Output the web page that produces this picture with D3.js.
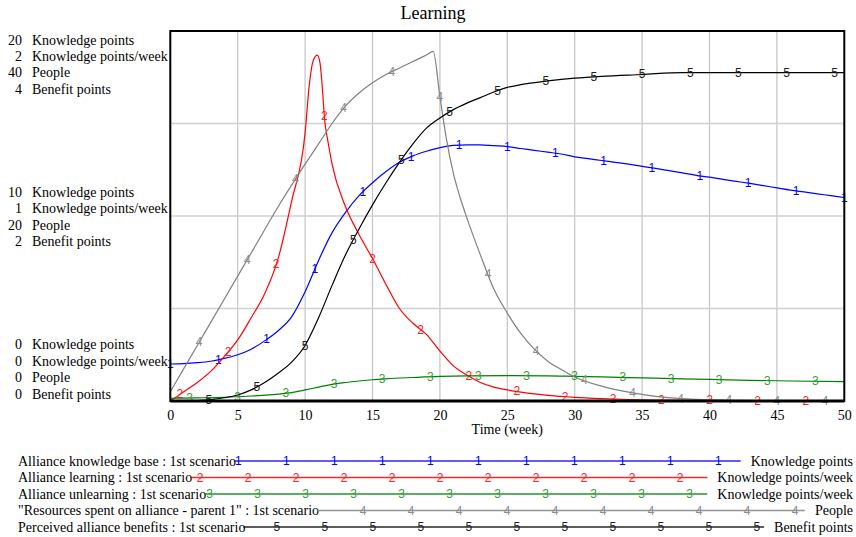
<!DOCTYPE html>
<html><head><meta charset="utf-8">
<script src="https://cdn.jsdelivr.net/npm/d3@7/dist/d3.min.js"></script>
<style>body{margin:0;background:#fff}svg{display:block}text{font-family:"Liberation Serif","Times New Roman",serif}</style>
</head><body><svg id="c" width="856" height="537"></svg>
<script>
const title = "Learning";
const xTicks = [0,5,10,15,20,25,30,35,40,45,50];
const xLabel = "Time (week)";
const axisUnits = ["Knowledge points","Knowledge points/week","People","Benefit points"];
const axisMax = [20, 2, 40, 4];

const seriesNames = ["Alliance knowledge base : 1st scenario","Alliance learning : 1st scenario","Alliance unlearning : 1st scenario","\"Resources spent on alliance - parent 1\" : 1st scenario","Perceived alliance benefits : 1st scenario"];
const seriesUnits = ["Knowledge points","Knowledge points/week","Knowledge points/week","People","Benefit points"];
const seriesAxis = [0,1,1,2,3];
const seriesColors = ["#0000ff","#ff0000","#008000","#808080","#000000"];
const markerColors = ["#0000ff","#ff2020","#3a9a3a","#8c8c8c","#202020"];

const knowledgeBaseT = [0,1,2,3,4,5,6,7,8,9,10,11,12,13,14,15,16,17,18,19,20,21,22,23,24,25,26,27,28,29,30,31,32,33,34,35,36,37,38,39,40,41,42,43,44,45,46,47,48,49,50];
const knowledgeBaseV = [2.0,2.02,2.07,2.15,2.3,2.5,2.8,3.25,3.8,4.55,5.9,7.6,9.1,10.2,11.1,11.8,12.4,12.9,13.25,13.5,13.7,13.82,13.85,13.85,13.8,13.75,13.65,13.55,13.45,13.35,13.2,13.1,13.0,12.9,12.8,12.68,12.57,12.45,12.33,12.2,12.1,11.98,11.87,11.76,11.64,11.52,11.4,11.3,11.2,11.1,11.0];

const learningT = [0,1,2,3,4,5,6,7,8,9,10,10.3,10.6,10.9,11.1,11.25,11.45,11.7,12,13,14,15,16,17,18,19,20,21,22,23,24,25,26,27,28,29,30,32,34,36,40,45,50];
const learningV = [0,0.05,0.1,0.16,0.24,0.33,0.45,0.58,0.77,1.08,1.45,1.7,1.84,1.87,1.83,1.72,1.52,1.4,1.28,1.05,0.9,0.77,0.63,0.5,0.42,0.36,0.27,0.19,0.14,0.1,0.075,0.06,0.048,0.038,0.03,0.025,0.02,0.013,0.008,0.005,0.003,0.001,0.001];

const unlearningT = [0,2,4,6,8,9,10,11,12,13,14,15,16,18,20,22,25,28,30,32,35,38,40,43,46,50];
const unlearningV = [0.015,0.017,0.02,0.027,0.037,0.045,0.06,0.075,0.09,0.1,0.108,0.115,0.12,0.127,0.133,0.136,0.137,0.136,0.133,0.13,0.125,0.12,0.117,0.112,0.108,0.105];

const resourcesT = [0,2,4,6,8,10,11,12,13,14,15,16,17,18,19,19.5,20,20.5,21,21.5,22,23,24,25,26,27,28,29,30,32,34,36,38,40,45,50];
const resourcesV = [1.0,6.0,11.0,16.0,21.0,25.6,27.8,30.0,31.9,33.3,34.4,35.3,36.0,36.7,37.4,37.8,32.9,28.2,24.6,22.0,19.8,15.8,12.1,9.5,7.3,5.6,4.3,3.4,2.6,1.6,0.95,0.5,0.25,0.12,0.03,0.01];

const benefitsT = [0,1,2,3,4,5,6,7,8,9,10,11,12,13,14,15,16,17,18,19,20,21,22,23,24,25,26,28,30,32,35,38,50];
const benefitsV = [0,0,0.005,0.015,0.035,0.065,0.12,0.2,0.3,0.42,0.6,0.9,1.25,1.58,1.86,2.12,2.36,2.58,2.78,2.95,3.06,3.15,3.22,3.28,3.34,3.39,3.42,3.46,3.49,3.51,3.53,3.55,3.55];

const seriesT = [knowledgeBaseT, learningT, unlearningT, resourcesT, benefitsT];
const seriesV = [knowledgeBaseV, learningV, unlearningV, resourcesV, benefitsV];

const svg = d3.select("#c");
const L = 170.3, R = 844.3, T = 31, B = 401;
const x = d3.scaleLinear().domain([0,50]).range([L,R]);
const ys = axisMax.map(m => d3.scaleLinear().domain([0,m]).range([B,T]));

svg.append("text").attr("x",433).attr("y",13).attr("text-anchor","middle").attr("dominant-baseline","central").attr("font-size",18).text(title);

const g = svg.append("g");
g.selectAll(".vg").data(xTicks.slice(1,-1)).join("line").attr("x1",d=>x(d)).attr("x2",d=>x(d)).attr("y1",T).attr("y2",B).attr("stroke","#c4c4c4").attr("stroke-width",1.2);
g.selectAll(".hg").data([0.25,0.5,0.75]).join("line").attr("x1",L).attr("x2",R).attr("y1",d=>ys[0](d*axisMax[0])).attr("y2",d=>ys[0](d*axisMax[0])).attr("stroke","#d0d0d0").attr("stroke-width",1.6);

const xa = d3.axisBottom(x).tickValues(xTicks).tickSize(0).tickPadding(0).tickFormat(d3.format("d"));
const xg = svg.append("g").attr("transform",`translate(0,${B})`).call(xa);
xg.select(".domain").remove();
xg.selectAll("text").attr("font-size",14).attr("fill","#000").attr("dy",null).attr("y",14).attr("dominant-baseline","central").style("font-family",'"Liberation Serif",serif');
svg.append("text").attr("x",(L+R)/2).attr("y",429).attr("text-anchor","middle").attr("dominant-baseline","central").attr("font-size",14).text(xLabel);

const step = 16.4;
const groups = [
  {frac:1, y0: T + 9},
  {frac:0.5, y0: ys[0](axisMax[0]/2) - 23.5},
  {frac:0, y0: B - 7 - 3*step}
];
groups.forEach(gr => {
  axisUnits.forEach((u,i) => {
    const yy = gr.y0 + i*step;
    svg.append("text").attr("x",22).attr("y",yy).attr("text-anchor","end").attr("dominant-baseline","central").attr("font-size",14).text(d3.format("d")(axisMax[i]*gr.frac));
    svg.append("text").attr("x",32).attr("y",yy).attr("dominant-baseline","central").attr("font-size",14).text(u);
  });
});

const interval = 50/14;
seriesT.forEach((ts,k) => {
  const y = ys[seriesAxis[k]];
  const pts = ts.map((t,i)=>[t, seriesV[k][i]]);
  const line = d3.line().x(d=>x(d[0])).y(d=>y(d[1])).curve(d3.curveMonotoneX);
  svg.append("path").attr("d",line(pts)).attr("fill","none").attr("stroke",seriesColors[k]).attr("stroke-width",1.2);
  const interp = t => {
    const i = Math.min(d3.bisectRight(ts,t), ts.length-1);
    const i0 = Math.max(i-1,0);
    if (ts[i]===ts[i0]) return seriesV[k][i];
    const f = (t-ts[i0])/(ts[i]-ts[i0]);
    return seriesV[k][i0] + f*(seriesV[k][i]-seriesV[k][i0]);
  };
  for (let t = k*interval/5; t <= 50.001; t += interval) {
    svg.append("text").attr("x",x(t)).attr("y",y(interp(t))).attr("text-anchor","middle").attr("dominant-baseline","central")
      .attr("font-size",12).style("font-family","'Liberation Sans',Arial,sans-serif").attr("fill",markerColors[k]).text(k+1);
  }
});

svg.append("rect").attr("x",L).attr("y",T).attr("width",R-L).attr("height",B-T).attr("fill","none").attr("stroke","#000").attr("stroke-width",2);
svg.append("line").attr("x1",L).attr("x2",R).attr("y1",B).attr("y2",B).attr("stroke","#000").attr("stroke-width",3);

const legY = [461,477.5,494,510.5,527];
seriesNames.forEach((n,k) => {
  const yy = legY[k];
  const lt = svg.append("text").attr("x",18).attr("y",yy).attr("dominant-baseline","central").attr("font-size",14).text(n);
  const rt = svg.append("text").attr("x",853).attr("y",yy).attr("text-anchor","end").attr("dominant-baseline","central").attr("font-size",14).text(seriesUnits[k]);
  const x0 = 18 + lt.node().getComputedTextLength() - 2;
  const x1 = 853 - rt.node().getComputedTextLength() - 10;
  svg.append("line").attr("x1",x0).attr("x2",x1).attr("y1",yy).attr("y2",yy).attr("stroke",seriesColors[k]).attr("stroke-width",1.3).attr("stroke-opacity",0.85);
  for (let mx = 190.4 + 9.6*k; mx <= x1 + 0.5; mx += 48) {
    if (mx < x0) continue;
    svg.append("text").attr("x",mx).attr("y",yy).attr("text-anchor","middle").attr("dominant-baseline","central")
      .attr("font-size",12).style("font-family","'Liberation Sans',Arial,sans-serif").attr("fill",markerColors[k]).text(k+1);
  }
});
</script></body></html>
